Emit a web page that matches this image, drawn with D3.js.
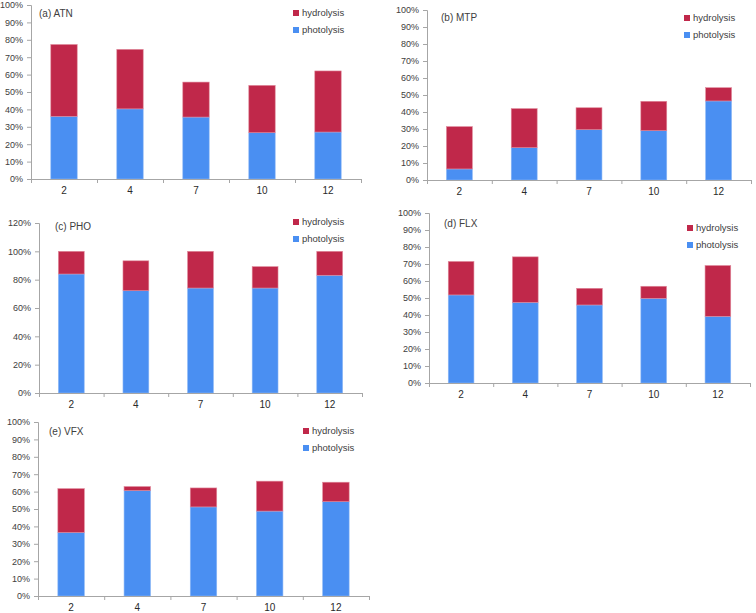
<!DOCTYPE html>
<html><head><meta charset="utf-8">
<script src="https://cdn.jsdelivr.net/npm/d3@7"></script>
<style>
body{margin:0;background:#fff;}
svg{display:block;font-family:"Liberation Sans",Arial,sans-serif;}
</style></head>
<body><svg id="c" width="756" height="613"></svg>
<script>
// ---- data ----
const categories = ["2", "4", "7", "10", "12"];
const seriesNames = ["hydrolysis", "photolysis"];
const panelTitles = ["(a) ATN", "(b) MTP", "(c) PHO", "(d) FLX", "(e) VFX"];
// photolysis share (%) per pH
const photolysisATN = [36.0, 40.3, 35.6, 26.6, 27.0];
const photolysisMTP = [6.5, 19.0, 29.6, 29.0, 46.5];
const photolysisPHO = [84.0, 72.2, 74.1, 74.1, 83.1];
const photolysisFLX = [51.8, 47.4, 45.9, 49.8, 39.2];
const photolysisVFX = [36.5, 60.6, 51.2, 48.8, 54.2];
// hydrolysis share (%) per pH (stacked on top)
const hydrolysisATN = [41.3, 34.2, 20.1, 27.2, 35.1];
const hydrolysisMTP = [24.9, 23.0, 12.9, 17.3, 7.8];
const hydrolysisPHO = [16.0, 21.1, 25.9, 15.1, 16.9];
const hydrolysisFLX = [19.7, 26.8, 9.8, 7.1, 29.9];
const hydrolysisVFX = [25.2, 2.3, 10.9, 17.2, 11.2];
// y axis tick values (%)
const yTicksDefault = [0, 10, 20, 30, 40, 50, 60, 70, 80, 90, 100];
const yTicksPHO = [0, 20, 40, 60, 80, 100, 120];

// ---- layout ----
const colors = {hydrolysis: "#c0284a", photolysis: "#4a8ff2"};
const strokes = {hydrolysis: "#e08a9c", photolysis: "#8db8f6"};
const panels = [
  {title: panelTitles[0], photo: photolysisATN, hydro: hydrolysisATN, ticks: yTicksDefault, x0: 31, x1: 361, yT: 5, yB: 179, tx: 39, ty: 13, lx: 293, ly: 13},
  {title: panelTitles[1], photo: photolysisMTP, hydro: hydrolysisMTP, ticks: yTicksDefault, x0: 427, x1: 751, yT: 10, yB: 180, tx: 441, ty: 17, lx: 684, ly: 18},
  {title: panelTitles[2], photo: photolysisPHO, hydro: hydrolysisPHO, ticks: yTicksPHO, x0: 39, x1: 362, yT: 223, yB: 393, tx: 55, ty: 226, lx: 293, ly: 222},
  {title: panelTitles[3], photo: photolysisFLX, hydro: hydrolysisFLX, ticks: yTicksDefault, x0: 429, x1: 750, yT: 213, yB: 383, tx: 444, ty: 223, lx: 687, ly: 228},
  {title: panelTitles[4], photo: photolysisVFX, hydro: hydrolysisVFX, ticks: yTicksDefault, x0: 38, x1: 369, yT: 422, yB: 596, tx: 49, ty: 431, lx: 303, ly: 431}
];

const svg = d3.select("#c");
const axisColor = "#a6a6a6";
const textColor = "#404040";

panels.forEach(p => {
  const g = svg.append("g");
  const x = d3.scaleBand().domain(categories).range([p.x0, p.x1]).paddingInner(0.6).paddingOuter(0.3);
  const xb = d3.scaleLinear().domain([0, categories.length]).range([p.x0, p.x1]);
  const yMax = d3.max(p.ticks);
  const y = d3.scaleLinear().domain([0, yMax]).range([p.yB, p.yT]);

  const rows = categories.map((c, i) => ({cat: c, photolysis: p.photo[i], hydrolysis: p.hydro[i]}));
  const stack = d3.stack().keys(["photolysis", "hydrolysis"])(rows);

  stack.forEach(layer => {
    g.selectAll(null).data(layer).enter().append("rect")
      .attr("x", d => x(d.data.cat))
      .attr("width", x.bandwidth())
      .attr("y", d => y(d[1]))
      .attr("height", d => y(d[0]) - y(d[1]))
      .attr("fill", colors[layer.key])
      .attr("stroke", strokes[layer.key])
      .attr("stroke-width", 0.6);
  });

  // y axis
  const yAxis = g.append("g").attr("transform", `translate(${p.x0},0)`)
    .call(d3.axisLeft(y).tickValues(p.ticks).tickSize(4).tickPadding(4).tickFormat(d => d + "%"));
  yAxis.select(".domain").attr("stroke", axisColor);
  yAxis.selectAll(".tick line").attr("stroke", axisColor);
  yAxis.selectAll("text").attr("fill", textColor).style("font-size", "9px");

  // x axis boundary ticks
  const xAxis = g.append("g").attr("transform", `translate(0,${p.yB})`)
    .call(d3.axisBottom(xb).tickValues(d3.range(0, categories.length + 1)).tickSize(4).tickFormat(""));
  xAxis.select(".domain").attr("stroke", axisColor);
  xAxis.selectAll(".tick line").attr("stroke", axisColor);
  // category labels
  const xLab = g.append("g").attr("transform", `translate(0,${p.yB})`)
    .call(d3.axisBottom(x).tickSize(0).tickPadding(8));
  xLab.select(".domain").remove();
  xLab.selectAll("text").attr("fill", "#2a2a2a").style("font-size", "10px");

  // title
  g.append("text").attr("x", p.tx).attr("y", p.ty).attr("dy", "0.35em")
    .attr("fill", textColor).style("font-size", "10px").text(p.title);

  // legend
  seriesNames.forEach((s, i) => {
    const ly = p.ly + i * 17;
    g.append("rect").attr("x", p.lx).attr("y", ly - 3).attr("width", 6).attr("height", 6).attr("fill", colors[s]);
    g.append("text").attr("x", p.lx + 9).attr("y", ly).attr("dy", "0.35em")
      .attr("fill", textColor).style("font-size", "9.5px").text(s);
  });
});
</script>
</body></html>
